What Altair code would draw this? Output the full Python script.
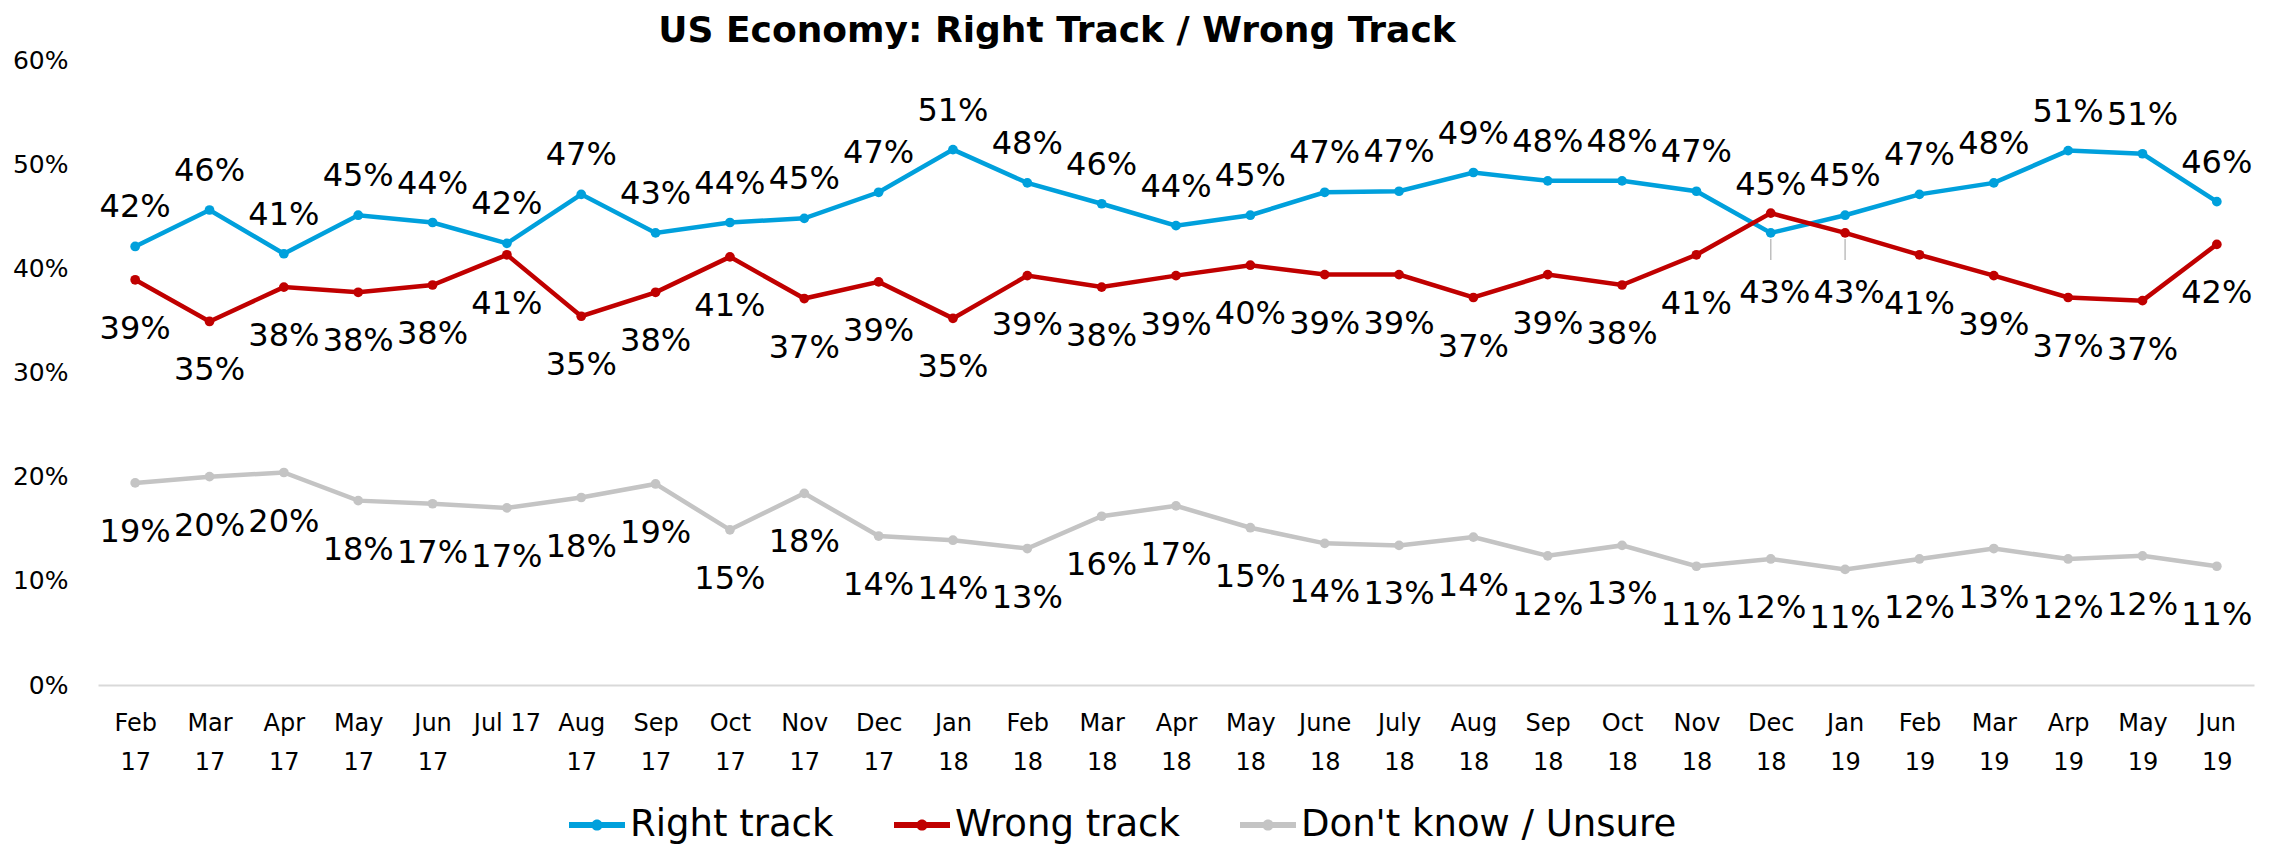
import altair as alt
import pandas as pd

title_text = "US Economy: Right Track / Wrong Track"

months = ["Feb 17", "Mar 17", "Apr 17", "May 17", "Jun 17", "Jul 17", "Aug 17", "Sep 17",
          "Oct 17", "Nov 17", "Dec 17", "Jan 18", "Feb 18", "Mar 18", "Apr 18", "May 18",
          "June 18", "July 18", "Aug 18", "Sep 18", "Oct 18", "Nov 18", "Dec 18", "Jan 19",
          "Feb 19", "Mar 19", "Arp 19", "May 19", "Jun 19"]

right_track = [42.1, 45.6, 41.4, 45.1, 44.4, 42.4, 47.1, 43.4, 44.4, 44.8, 47.3, 51.4, 48.2, 46.2,
               44.1, 45.1, 47.3, 47.4, 49.2, 48.4, 48.4, 47.4, 43.4, 45.1, 47.1, 48.2, 51.3, 51.0, 46.4]

wrong_track = [38.9, 34.9, 38.2, 37.7, 38.4, 41.3, 35.4, 37.7, 41.1, 37.1, 38.7, 35.2, 39.3, 38.2,
               39.3, 40.3, 39.4, 39.4, 37.2, 39.4, 38.4, 41.3, 45.3, 43.4, 41.3, 39.3, 37.2, 36.9, 42.3]

dont_know = [19.4, 20.0, 20.4, 17.7, 17.4, 17.0, 18.0, 19.3, 14.9, 18.4, 14.3, 13.9, 13.1, 16.2,
             17.2, 15.1, 13.6, 13.4, 14.2, 12.4, 13.4, 11.4, 12.1, 11.1, 12.1, 13.1, 12.1, 12.4, 11.4]

series_names = ["Right track", "Wrong track", "Don't know / Unsure"]
series_colors = ["#00A0DC", "#C00000", "#C4C4C4"]
y_ticks = [0, 10, 20, 30, 40, 50, 60]

# label placement exceptions (series, month)
labels_above_near = [("Wrong track", "Dec 18")]
labels_below_far = [("Right track", "Dec 18"), ("Wrong track", "Jan 19")]

rows = []
for name, vals in zip(series_names, [right_track, wrong_track, dont_know]):
    for m, v in zip(months, vals):
        rows.append({"month": m, "series": name, "value": v})
df = pd.DataFrame(rows)


def pair_expr(pairs):
    return "(" + " || ".join(
        f"(datum.series == \"{s}\" && datum.month == '{m}')" for s, m in pairs) + ")"


near_expr = pair_expr(labels_above_near)
far_expr = pair_expr(labels_below_far)

FONT = "DejaVu Sans"

x_enc = alt.X(
    "month:N", sort=months,
    scale=alt.Scale(type="point", padding=0.5),
    axis=alt.Axis(
        title=None, labelAngle=0, ticks=False, tickSize=0, grid=False,
        domainColor="#D9D9D9", domainWidth=2,
        labelFont=FONT, labelFontSize=24, labelColor="#000000",
        labelBaseline="alphabetic", labelPadding=45, labelLineHeight=39,
        labelOverlap=False, labelLimit=300,
        labelExpr="datum.label == 'Jul 17' ? datum.label : split(datum.label, ' ')",
    ),
)
y_enc = alt.Y(
    "value:Q",
    scale=alt.Scale(domain=[0, 60], nice=False, zero=True),
    axis=alt.Axis(
        title=None, values=y_ticks, grid=False, domain=False, ticks=False, tickSize=0,
        labelFont=FONT, labelFontSize=25, labelColor="#000000", labelPadding=30,
        labelExpr="datum.value + '%'",
    ),
)
color_scale = alt.Scale(domain=series_names, range=series_colors)

base = alt.Chart(df).encode(x=x_enc, y=y_enc)

legend_symbol = ("M-1,-0.11 L1,-0.11 L1,0.11 L-1,0.11 Z "
                 "M0,-0.2 A0.2,0.2 0 1,1 0,0.2 A0.2,0.2 0 1,1 0,-0.2 Z")

color_enc = alt.Color(
    "series:N", scale=color_scale, sort=series_names,
    legend=alt.Legend(
        title="\u200b", titleOrient="left", titlePadding=471, titleFontSize=1,
        orient="bottom", direction="horizontal", offset=23, padding=0,
        symbolType=legend_symbol, symbolSize=3136, symbolStrokeWidth=0,
        symbolOpacity=1,
        labelFont=FONT, labelFontSize=37, labelColor="#000000",
        labelOffset=5, columnPadding=60, labelLimit=600,
    ),
)

lines = base.mark_line(strokeWidth=4.5).encode(color=color_enc)
points = base.mark_point(filled=True, size=95, opacity=1).encode(color=color_enc)

leaders = base.mark_rule(color="#BFBFBF", strokeWidth=1.5, yOffset=6, y2Offset=27).encode(
    y2="value:Q"
).transform_filter(far_expr)

label_base = base.transform_calculate(label="round(datum.value) + '%'")
text_props = dict(font=FONT, fontSize=32, color="#000000", align="center", baseline="alphabetic")

labels_above = label_base.mark_text(dy=-29, **text_props).encode(text="label:N").transform_filter(
    f"datum.series == 'Right track' && !{far_expr} && !{near_expr}")
labels_near = label_base.mark_text(dy=-18, **text_props).encode(text="label:N").transform_filter(near_expr)
labels_below = label_base.mark_text(dy=59, **text_props).encode(text="label:N").transform_filter(
    f"datum.series != 'Right track' && !{far_expr} && !{near_expr}")
labels_far = label_base.mark_text(dy=70, dx=4, **text_props).encode(text="label:N").transform_filter(far_expr)

title = alt.Chart(pd.DataFrame({"t": [title_text]})).mark_text(
    font=FONT, fontSize=36, fontWeight="bold", color="#000000",
    align="center", baseline="alphabetic",
).encode(text="t:N", x=alt.value(959), y=alt.value(-18))

chart = alt.layer(
    lines, points, leaders, labels_above, labels_near, labels_below, labels_far, title
).properties(
    width=2156, height=625,
    autosize=alt.AutoSizeParams(type="none"),
    padding={"left": 90, "top": 52, "right": 18, "bottom": 160},
    background="white",
).configure_view(stroke=None)

chart.save("out.html", embed_options={"renderer": "svg", "actions": False})
